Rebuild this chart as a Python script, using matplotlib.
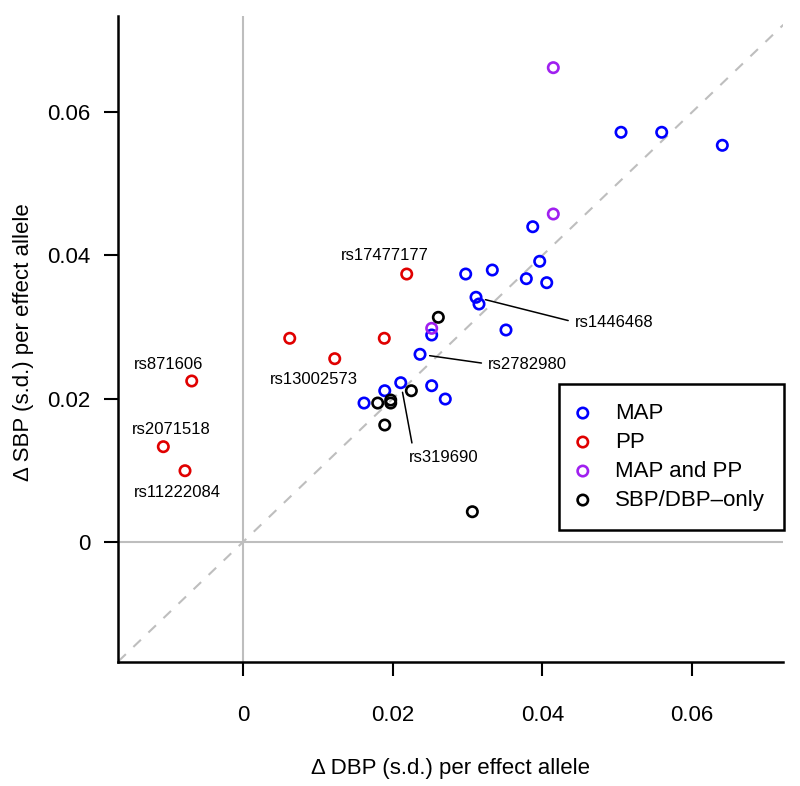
import matplotlib
matplotlib.use("Agg")
import matplotlib.pyplot as plt

plt.rcParams['font.family'] = ['Liberation Sans', 'DejaVu Sans']

# ---- data (DBP effect, SBP effect) ----
map_dbp = [0.01615, 0.01892, 0.02106, 0.02364, 0.0252, 0.02702, 0.0252, 0.03113, 0.03153,
           0.03514, 0.02975, 0.03331, 0.03786, 0.04059, 0.03965, 0.03872, 0.05053, 0.05597, 0.06408]
map_sbp = [0.01938, 0.0211, 0.02222, 0.02619, 0.0218, 0.01994, 0.02889, 0.03416, 0.03322,
           0.02959, 0.03741, 0.03797, 0.03676, 0.0362, 0.03919, 0.04402, 0.05722, 0.05722, 0.0554]
pp_dbp = [-0.0069, -0.0107, -0.0078, 0.00621, 0.01223, 0.01886, 0.02186]
pp_sbp = [0.02246, 0.01328, 0.00992, 0.02843, 0.02558, 0.02843, 0.03741]
both_dbp = [0.04147, 0.04147, 0.0252]
both_sbp = [0.06625, 0.0458, 0.02982]
only_dbp = [0.02609, 0.02248, 0.01798, 0.01972, 0.01972, 0.01892, 0.03064]
only_sbp = [0.03136, 0.0211, 0.01938, 0.0198, 0.01938, 0.01631, 0.00419]

group_names = ["MAP", "PP", "MAP and PP", "SBP/DBP\u2013only"]

label_snps = ["rs871606", "rs2071518", "rs11222084", "rs13002573", "rs17477177",
              "rs1446468", "rs2782980", "rs319690"]
label_group = ["PP", "PP", "PP", "PP", "PP", "MAP", "MAP", "MAP"]
label_index = [0, 1, 2, 4, 6, 7, 3, 2]

x_ticks = [0, 0.02, 0.04, 0.06]
y_ticks = [0, 0.02, 0.04, 0.06]

# ---- layout / style ----
colors = ["#0000FF", "#E00000", "#A020F0", "#000000"]
# (dx, dy in pixels, ha, leader line, relpos)
label_layout = [(-22.7, 16.7, 'center', False, None),
                (7.5, 17.4, 'center', False, None),
                (-7.2, -22.0, 'center', False, None),
                (-20.7, -20.6, 'center', False, None),
                (-22.2, 19.0, 'center', False, None),
                (99.0, -25.0, 'left', True, (0.0, 0.5)),
                (68.3, -9.7, 'left', True, (0.0, 0.5)),
                (43.1, -74.6, 'center', True, (0.06, 1.0))]

fig = plt.figure(figsize=(8.0, 7.86), dpi=100)
ax = fig.add_axes([0.1479, 0.15814, 0.83125, 0.8215])
ax.set_xlim(-0.01672, 0.07224)
ax.set_ylim(-0.01677, 0.07347)

grey = "#BEBEBE"
ax.axvline(0, color=grey, lw=1.5, zorder=1)
ax.axhline(0, color=grey, lw=1.5, zorder=1)
ax.axline((0, 0), slope=1, color=grey, lw=1.5, linestyle=(0, (5, 5)), zorder=1)

series = [(map_dbp, map_sbp), (pp_dbp, pp_sbp), (both_dbp, both_sbp), (only_dbp, only_sbp)]
for (xs, ys), c, name in zip(series, colors, group_names):
    ax.scatter(xs, ys, s=56, facecolors='none', edgecolors=c, linewidths=1.9,
               label=name, zorder=3)

lookup = {"MAP": (map_dbp, map_sbp), "PP": (pp_dbp, pp_sbp)}
for snp, g, i, (dx, dy, ha, line, rel) in zip(label_snps, label_group, label_index, label_layout):
    xs, ys = lookup[g]
    kw = {}
    if line:
        kw['arrowprops'] = dict(arrowstyle='-', color='black', lw=1.1,
                                shrinkA=3, shrinkB=7, relpos=rel)
    ax.annotate(snp, xy=(xs[i], ys[i]), xytext=(dx, dy), textcoords='offset pixels',
                ha=ha, va='center', fontsize=12, color='black', zorder=4, **kw)

for side in ['top', 'right']:
    ax.spines[side].set_visible(False)
for side in ['left', 'bottom']:
    ax.spines[side].set_linewidth(1.8)

ax.set_xticks(x_ticks)
ax.set_xticklabels(["0", "0.02", "0.04", "0.06"])
ax.set_yticks(y_ticks)
ax.set_yticklabels(["0", "0.02", "0.04", "0.06"])
ax.tick_params(axis='both', direction='out', length=10, width=1.5, labelsize=16)
ax.tick_params(axis='x', pad=21)
ax.tick_params(axis='y', pad=10)

ax.set_xlabel("\u0394 DBP (s.d.) per effect allele", fontsize=16)
ax.set_ylabel("\u0394 SBP (s.d.) per effect allele", fontsize=16)
ax.xaxis.set_label_coords(0.5, -0.166)
ax.xaxis.label.set_va('center')
ax.yaxis.set_label_coords(-0.142, 0.4956)
ax.yaxis.label.set_va('center')

leg = ax.legend(loc='upper left', bbox_to_anchor=(0.6632, 0.4301), fontsize=16,
                frameon=True, fancybox=False, edgecolor='black', framealpha=1,
                borderpad=0.85, labelspacing=0.36, handlelength=0.41, handletextpad=1.25,
                borderaxespad=0, scatterpoints=1)
leg.get_frame().set_linewidth(1.8)

fig.savefig("out.png", dpi=100)
